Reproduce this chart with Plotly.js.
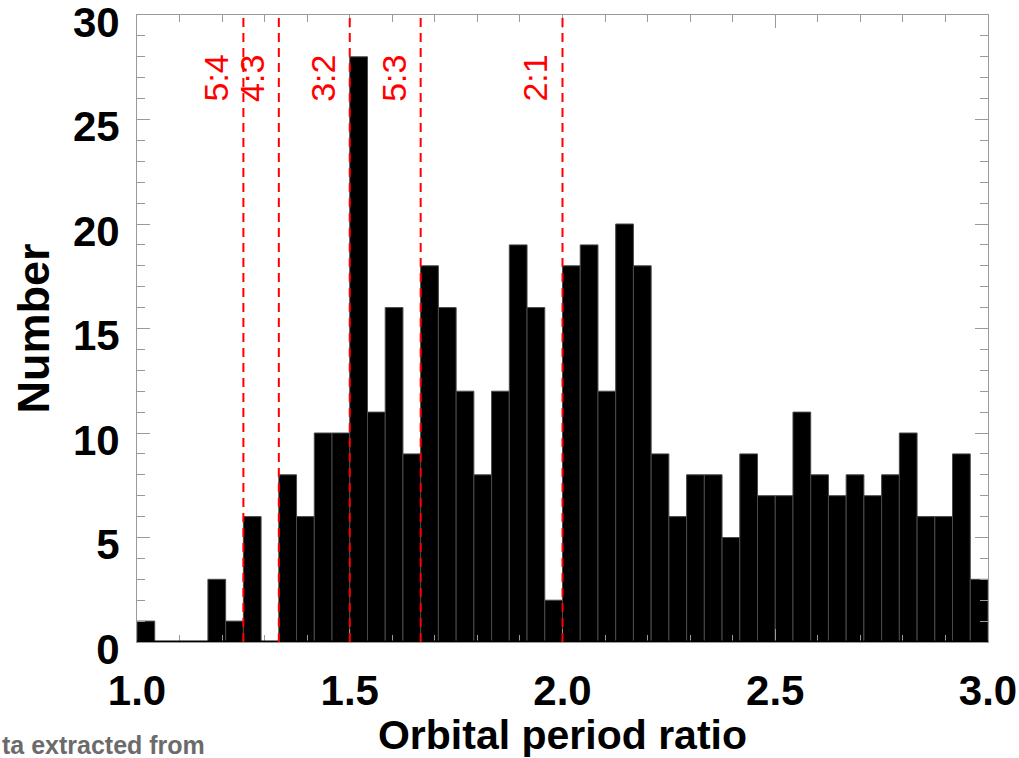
<!DOCTYPE html>
<html>
<head>
<meta charset="utf-8">
<script src="https://cdn.plot.ly/plotly-3.0.1.min.js"></script>
<style>html,body{margin:0;padding:0;background:#fff;}#chart{width:1019px;height:758px;}</style>
</head>
<body>
<div id="chart"></div>
<script>
// Histogram of orbital period ratios, bins of width 1/24 starting at 1.0
var binStart = 1.0;
var binWidth = 1 / 24;
var counts = [1, 0, 0, 0, 3, 1, 6, 0, 8, 6, 10, 10, 28, 11, 16, 9,
              18, 16, 12, 8, 12, 19, 16, 2, 18, 19, 12, 20, 18, 9, 6, 8,
              8, 5, 9, 7, 7, 11, 8, 7, 8, 7, 8, 10, 6, 6, 9, 3];

// Mean-motion resonances
var resLabels = ['5:4', '4:3', '3:2', '5:3', '2:1'];
var resValues = [5 / 4, 4 / 3, 3 / 2, 5 / 3, 2 / 1];

var xTickVals = [1.0, 1.5, 2.0, 2.5, 3.0];
var xTickText = ['1.0', '1.5', '2.0', '2.5', '3.0'];
var yTickVals = [0, 5, 10, 15, 20, 25, 30];

var centers = counts.map(function (c, k) { return binStart + (k + 0.5) * binWidth; });

var FONT = 'Liberation Sans, Arial, Helvetica, sans-serif';
var GREY = '#9a9a9a';

var trace = {
  type: 'bar',
  x: centers,
  y: counts,
  width: binWidth,
  marker: { color: '#000000', line: { color: '#4a4a4a', width: 1 } },
  hoverinfo: 'x+y'
};

var shapes = [{
  type: 'line', xref: 'paper', yref: 'y', x0: 0, x1: 1, y0: 0, y1: 0,
  line: { color: '#000000', width: 3 }, layer: 'above'
}];
var annotations = [];
resValues.forEach(function (v, i) {
  shapes.push({
    type: 'line', xref: 'x', yref: 'paper', x0: v, x1: v, y0: 0, y1: 1,
    line: { color: '#ff0000', width: 2, dash: '9px,6px' }, layer: 'above'
  });
  annotations.push({
    text: resLabels[i], xref: 'x', yref: 'paper', x: v, y: 0.94,
    xanchor: 'right', yanchor: 'top', textangle: -90, showarrow: false,
    xshift: -6, font: { family: FONT, size: 34, color: '#ff0000' }
  });
});
annotations.push({
  text: 'ta extracted from', xref: 'paper', yref: 'paper',
  x: -137 / 851, y: -(745 - 642) / 627, xanchor: 'left', yanchor: 'middle', showarrow: false,
  font: { family: FONT, size: 25, color: '#6b6b6b', weight: 700 }
});

var layout = {
  width: 1019, height: 758,
  margin: { l: 137, r: 31, t: 15, b: 116, pad: 0 },
  paper_bgcolor: '#ffffff', plot_bgcolor: '#ffffff',
  showlegend: false,
  bargap: 0,
  font: { family: FONT, color: '#000000' },
  xaxis: {
    range: [1.0, 3.0],
    tickvals: xTickVals, ticktext: xTickText,
    ticks: 'inside', ticklen: 13, tickwidth: 1, tickcolor: GREY,
    showline: true, linecolor: GREY, linewidth: 1, mirror: 'ticks',
    showgrid: false, zeroline: false,
    minor: { dtick: 0.1, ticks: 'inside', ticklen: 7, tickcolor: GREY, showgrid: false },
    ticklabelstandoff: 12,
    ticklabeloverflow: 'allow',
    tickfont: { family: FONT, size: 42, weight: 700 },
    title: { text: 'Orbital period ratio', standoff: 3, font: { family: FONT, size: 41, weight: 700 } }
  },
  yaxis: {
    range: [0, 30],
    tickvals: yTickVals,
    ticks: 'inside', ticklen: 13, tickwidth: 1, tickcolor: GREY,
    showline: true, linecolor: GREY, linewidth: 1, mirror: 'ticks',
    showgrid: false, zeroline: false,
    minor: { dtick: 1, ticks: 'inside', ticklen: 8, tickcolor: GREY, showgrid: false },
    ticklabelstandoff: 8,
    ticklabelshift: 7,
    ticklabeloverflow: 'allow',
    tickfont: { family: FONT, size: 42, weight: 700 },
    title: { text: 'Number', standoff: 9, font: { family: FONT, size: 45, weight: 700 } }
  },
  shapes: shapes,
  annotations: annotations
};

Plotly.newPlot('chart', [trace], layout, { displayModeBar: false, staticPlot: true });
</script>
</body>
</html>
